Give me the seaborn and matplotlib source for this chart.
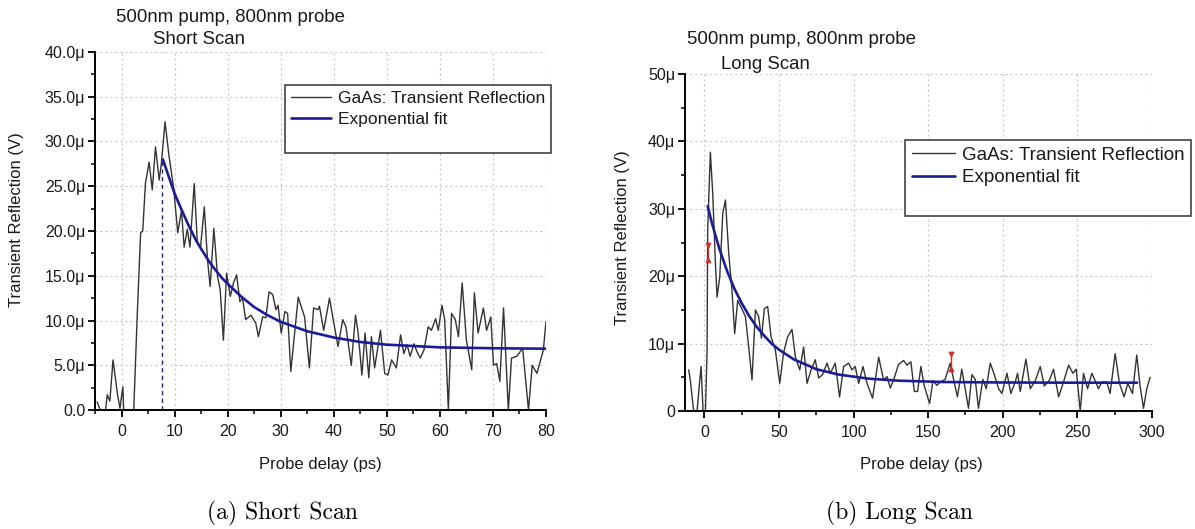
import matplotlib
matplotlib.use("Agg")
import matplotlib.pyplot as plt
import seaborn as sns
import pandas as pd
from matplotlib.lines import Line2D
from matplotlib.ticker import MultipleLocator, FixedLocator, FixedFormatter

# ---------------- data: short scan ----------------
short_delay = [-4.6, -4.0, -3.0, -2.7, -2.2, -1.6, -0.8, -0.3, 0.25, 0.4, 2.3, 3.0, 3.6, 4.0,
               4.5, 5.2, 5.8, 6.4, 7.1, 7.5, 8.2, 8.9, 9.8, 10.6, 11.3, 11.8, 12.4, 12.9,
               13.7, 14.3, 14.9, 15.6, 16.2, 16.7, 17.4, 18.1, 18.6, 19.2, 19.8, 20.5, 21.1,
               21.7, 22.3, 22.8, 23.4, 24.4, 25.3, 25.8, 26.6, 27.2, 27.8, 28.5, 29.1, 29.5,
               30.1, 30.8, 31.3, 31.9, 33.3, 34.5, 35.4, 36.2, 37.0, 37.3, 38.1, 39.2, 39.8,
               40.8, 41.7, 42.3, 43.3, 44.1, 44.6, 45.3, 45.9, 46.6, 47.1, 47.7, 48.8, 49.6,
               50.2, 50.9, 51.8, 52.6, 53.2, 53.8, 54.4, 55.1, 55.7, 56.3, 57.0, 57.8, 58.4,
               59.2, 59.7, 60.4, 60.9, 61.6, 62.2, 62.9, 63.5, 64.2, 65.0, 66.0, 66.5, 67.2,
               68.2, 68.8, 69.6, 70.1, 70.7, 71.3, 72.0, 72.9, 73.5, 74.5, 75.6, 76.7, 77.4,
               78.3, 79.5, 80.0]
short_signal = [0.9, 0.0, 0.0, 1.7, 1.0, 5.6, 1.9, 0.2, 2.6, 0.0, 0.0, 11.2, 19.8, 20.0,
                25.3, 27.7, 24.6, 29.4, 25.7, 27.5, 32.2, 28.6, 24.9, 19.8, 22.3, 18.2, 20.2, 18.2,
                25.3, 18.6, 18.2, 22.7, 16.8, 13.8, 20.3, 14.9, 13.4, 7.8, 15.3, 12.7, 14.2,
                15.1, 12.1, 12.5, 10.1, 10.6, 9.7, 8.2, 10.4, 10.3, 13.2, 12.9, 11.2, 11.7,
                8.6, 11.0, 10.8, 4.3, 12.6, 10.4, 4.7, 11.4, 11.2, 11.6, 8.9, 12.5, 10.4,
                7.1, 10.1, 9.3, 5.0, 10.6, 8.6, 3.9, 8.6, 3.6, 8.2, 4.7, 8.9, 4.1,
                3.9, 5.6, 4.7, 8.4, 6.3, 7.3, 6.0, 7.4, 6.5, 5.8, 6.7, 9.3, 8.9,
                10.2, 8.9, 11.7, 10.1, 0.0, 10.8, 10.1, 8.2, 14.2, 7.8, 4.5, 13.1, 8.6,
                11.4, 8.9, 10.4, 5.0, 5.2, 3.2, 11.4, 0.0, 5.8, 6.0, 6.9, 0.0, 5.0,
                4.1, 6.7, 9.9]
short_fit_delay = [7.8, 9.0, 10.0, 11.0, 12.5, 14.0, 15.0, 16.5, 17.5, 19.0, 20.0, 22.5, 25.0,
                   27.5, 30.0, 35.0, 40.0, 45.0, 50.0, 60.0, 70.0, 80.0]
short_fit_signal = [28.0, 25.9, 24.2, 22.8, 20.8, 19.0, 18.0, 16.6, 15.8, 14.7, 14.1, 12.7, 11.5,
                    10.6, 9.85, 8.8, 8.1, 7.6, 7.3, 7.0, 6.9, 6.85]
short_t0_delay = 7.7
short_t0_signal = 28.0

# ---------------- data: long scan ----------------
long_delay = [-10.5, -9.4, -7.2, -4.9, -3.3, -2.2, -0.9, 0.7, 1.8, 2.2, 4.0, 5.6, 7.4, 8.5,
              10.3, 12.3, 14.1, 16.3, 18.5, 20.3, 22.3, 24.6, 27.5, 29.7, 31.9, 34.2, 36.4,
              38.2, 40.2, 42.4, 44.7, 47.6, 50.5, 53.1, 55.8, 58.7, 61.0, 63.9, 66.5, 68.8,
              71.5, 74.3, 76.6, 79.2, 82.2, 84.4, 87.7, 90.6, 93.3, 96.7, 98.9, 101.1, 103.4,
              106.3, 109.0, 112.7, 116.8, 120.1, 122.4, 124.6, 126.8, 130.1, 133.5, 135.8,
              138.4, 140.7, 142.9, 145.1, 147.3, 150.9, 153.2, 155.8, 158.1, 161.4, 164.7,
              167.0, 169.6, 172.5, 174.8, 177.0, 179.3, 181.5, 183.7, 186.6, 188.9, 191.6,
              194.3, 197.2, 199.4, 202.8, 205.4, 208.3, 209.9, 211.7, 215.5, 218.4, 221.8,
              225.1, 227.8, 231.1, 234.0, 237.4, 240.7, 244.1, 247.0, 249.2, 251.9, 254.1,
              256.8, 259.7, 261.9, 264.1, 266.4, 269.7, 271.9, 275.3, 278.2, 281.3, 283.8,
              286.9, 289.8, 292.0, 294.3, 296.5, 298.7]
long_signal = [6.1, 4.5, 0.0, 0.0, 4.1, 6.6, 0.0, 0.0, 9.0, 26.8, 38.4, 32.2, 21.9, 16.9,
               19.9, 29.3, 31.3, 23.4, 17.9, 11.5, 16.4, 15.4, 14.0, 9.5, 4.6, 15.0, 14.0,
               10.8, 15.2, 15.5, 11.0, 9.0, 4.1, 8.7, 11.0, 12.1, 8.0, 6.1, 9.5, 4.1,
               6.1, 7.6, 4.9, 5.4, 7.1, 5.6, 7.1, 2.1, 6.6, 7.1, 6.1, 6.6, 4.1,
               6.6, 4.1, 1.9, 8.0, 4.6, 5.1, 3.4, 4.6, 6.9, 7.5, 6.8,
               7.3, 2.9, 2.9, 6.6, 3.8, 1.1, 4.5, 3.8, 4.3, 4.7, 7.1,
               4.7, 2.1, 6.2, 3.3, 0.4, 5.4, 4.7, 0.4, 4.7, 3.3, 7.1,
               5.4, 3.3, 2.6, 5.6, 2.6, 4.3, 5.6, 2.9, 7.7, 3.3, 4.5,
               6.6, 3.7, 4.5, 6.2, 2.1, 4.3, 6.8, 5.6, 6.2, 0.0, 5.6,
               3.3, 5.6, 4.5, 3.3, 4.3, 4.3, 2.6, 8.5, 4.1, 2.1, 4.1,
               2.6, 8.3, 3.7, 0.4, 3.3, 5.0]
long_fit_delay = [2.2, 5.0, 10.0, 15.0, 20.0, 25.0, 30.0, 35.0, 40.0, 45.0, 50.0, 60.0, 70.0,
                  75.0, 90.0, 110.0, 130.0, 160.0, 200.0, 250.0, 290.0]
long_fit_signal = [30.4, 27.9, 24.1, 20.9, 18.2, 16.0, 14.1, 12.5, 11.2, 10.0, 9.1, 7.65, 6.7,
                   6.2, 5.4, 4.8, 4.5, 4.3, 4.23, 4.2, 4.2]
long_err_delay = [2.2, 165.0]
long_err_low = [22.4, 6.3]
long_err_high = [24.6, 8.5]

short_yticks = [0, 5, 10, 15, 20, 25, 30, 35, 40]
short_ytick_labels = ["0.0", "5.0μ", "10.0μ", "15.0μ", "20.0μ", "25.0μ", "30.0μ", "35.0μ", "40.0μ"]
short_xticks = [0, 10, 20, 30, 40, 50, 60, 70, 80]
long_yticks = [0, 10, 20, 30, 40, 50]
long_ytick_labels = ["0", "10μ", "20μ", "30μ", "40μ", "50μ"]
long_xticks = [0, 50, 100, 150, 200, 250, 300]

legend_labels = ["GaAs: Transient Reflection", "Exponential fit"]
title_line1 = "500nm pump, 800nm probe"
short_title2 = "Short Scan"
long_title2 = "Long Scan"
ylabel = "Transient Reflection (V)"
xlabel = "Probe delay (ps)"
captions = ["(a) Short Scan", "(b) Long Scan"]

# ---------------- style ----------------
sns.set_theme(style="ticks")
plt.rcParams['font.family'] = ['Liberation Sans', 'DejaVu Sans']
TRACE = "#333333"
FIT = "#1c1c96"
GRID = "#c4c4c4"
TEXT = "#1a1a1a"

W, H = 1195, 529
fig = plt.figure(figsize=(W / 100, H / 100), dpi=100)
fig.patch.set_facecolor("white")


def px_rect(l, t, r, b):
    return [l / W, 1 - b / H, (r - l) / W, (b - t) / H]


ax1 = fig.add_axes(px_rect(95, 52, 546, 410))
ax2 = fig.add_axes(px_rect(685, 74, 1152, 411))

df_s = pd.DataFrame({"delay": short_delay, "signal": short_signal})
df_sf = pd.DataFrame({"delay": short_fit_delay, "signal": short_fit_signal})
df_l = pd.DataFrame({"delay": long_delay, "signal": long_signal})
df_lf = pd.DataFrame({"delay": long_fit_delay, "signal": long_fit_signal})

sns.lineplot(data=df_s, x="delay", y="signal", ax=ax1, color=TRACE, linewidth=1.0,
             estimator=None)
sns.lineplot(data=df_sf, x="delay", y="signal", ax=ax1, color=FIT, linewidth=1.9,
             estimator=None)
ax1.vlines(short_t0_delay, 0, short_t0_signal, colors=FIT, linestyles=(0, (3, 2.5)), linewidth=1.0)

sns.lineplot(data=df_l, x="delay", y="signal", ax=ax2, color=TRACE, linewidth=1.0,
             estimator=None)
sns.lineplot(data=df_lf, x="delay", y="signal", ax=ax2, color=FIT, linewidth=1.9,
             estimator=None)
ax2.vlines(long_err_delay, long_err_low, long_err_high, colors="#d03030", linewidth=1.0)
ax2.scatter(long_err_delay, long_err_high, marker="v", s=10, color="#d03030", zorder=5)
ax2.scatter(long_err_delay, long_err_low, marker="^", s=10, color="#d03030", zorder=5)


def style_axes(ax, xlim, ylim, xticks, xminor, yticks, ylabels, yminor):
    ax.set_xlim(*xlim)
    ax.set_ylim(*ylim)
    ax.xaxis.set_major_locator(FixedLocator(xticks))
    ax.xaxis.set_minor_locator(MultipleLocator(xminor))
    ax.yaxis.set_major_locator(FixedLocator(yticks))
    ax.yaxis.set_major_formatter(FixedFormatter(ylabels))
    ax.yaxis.set_minor_locator(MultipleLocator(yminor))
    for s in ["top", "right"]:
        ax.spines[s].set_visible(False)
    for s in ["left", "bottom"]:
        ax.spines[s].set_color("black")
        ax.spines[s].set_linewidth(1.4)
    ax.tick_params(which="major", direction="out", length=5, width=1.3, colors="black",
                   labelsize=11.5, labelcolor=TEXT)
    ax.tick_params(axis="x", which="major", pad=5)
    ax.tick_params(axis="y", which="major", pad=2)
    ax.tick_params(which="minor", direction="out", length=3, width=1.1, colors="black")
    ax.grid(True, which="major", color=GRID, linestyle=(0, (1.5, 2.5)), linewidth=0.9)
    ax.set_xlabel("")
    ax.set_ylabel("")
    ax.set_facecolor("white")


style_axes(ax1, (-5, 80), (0, 40), short_xticks, 5, short_yticks, short_ytick_labels, 2.5)
style_axes(ax2, (-13, 300), (0, 50), long_xticks, 25, long_yticks, long_ytick_labels, 5)


def add_legend(ax, left, top, fs):
    handles = [Line2D([], [], color=TRACE, linewidth=1.0),
               Line2D([], [], color=FIT, linewidth=1.9),
               Line2D([], [], color="none")]
    leg = ax.legend(handles, legend_labels + [" "], loc="upper left",
                    bbox_to_anchor=(left / W, 1 - top / H), bbox_transform=fig.transFigure,
                    frameon=True, fancybox=False, framealpha=1, edgecolor="#333333",
                    borderaxespad=0, fontsize=fs, handlelength=2.3, handletextpad=0.4,
                    labelspacing=0.3, borderpad=0.35)
    leg.get_frame().set_linewidth(1.1)
    for t in leg.get_texts():
        t.set_color(TEXT)


add_legend(ax1, 285, 85, 12.5)
add_legend(ax2, 905, 140, 13.5)

# titles
fig.text(116 / W, 1 - 21.7 / H, title_line1, fontsize=13.4, ha="left", va="baseline", color=TEXT)
fig.text(152.7 / W, 1 - 44.3 / H, short_title2, fontsize=13.4, ha="left", va="baseline", color=TEXT)
fig.text(686.7 / W, 1 - 44.3 / H, title_line1, fontsize=13.4, ha="left", va="baseline", color=TEXT)
fig.text(720.7 / W, 1 - 69.3 / H, long_title2, fontsize=13.4, ha="left", va="baseline", color=TEXT)

# axis labels
fig.text(17 / W, 1 - 220 / H, ylabel, rotation=90, fontsize=12, ha="center", va="center", color=TEXT)
fig.text(623 / W, 1 - 238 / H, ylabel, rotation=90, fontsize=12, ha="center", va="center", color=TEXT)
fig.text(320 / W, 1 - 465 / H, xlabel, fontsize=12, ha="center", va="center", color=TEXT)
fig.text(921 / W, 1 - 465 / H, xlabel, fontsize=12, ha="center", va="center", color=TEXT)

# captions
fig.text(282 / W, 1 - 513 / H, captions[0], fontsize=17, ha="center", va="center",
         family=["cmr10", "DejaVu Serif"], color="black")
fig.text(899 / W, 1 - 513 / H, captions[1], fontsize=17, ha="center", va="center",
         family=["cmr10", "DejaVu Serif"], color="black")

fig.savefig("out.png", dpi=100, facecolor="white")
